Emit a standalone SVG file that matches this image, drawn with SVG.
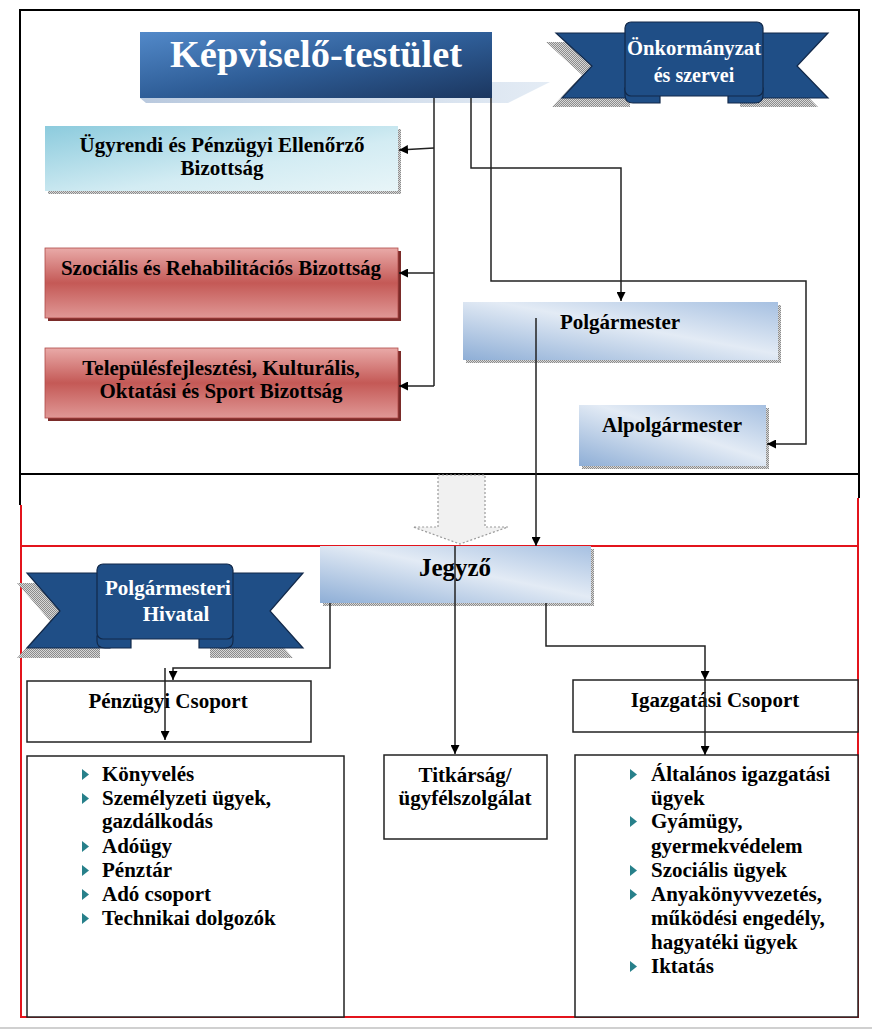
<svg xmlns="http://www.w3.org/2000/svg" width="872" height="1030" viewBox="0 0 872 1030">
<defs>
<linearGradient id="gKT" x1="0" y1="0" x2="1" y2="1">
<stop offset="0" stop-color="#5289c9"/><stop offset="0.5" stop-color="#2f5e98"/><stop offset="1" stop-color="#1b365f"/>
</linearGradient>
<linearGradient id="gKTs" x1="0" y1="0" x2="1" y2="0">
<stop offset="0" stop-color="#b9c9de"/><stop offset="1" stop-color="#e4ecf5"/>
</linearGradient>
<linearGradient id="gCyan" x1="0" y1="0" x2="1" y2="1">
<stop offset="0" stop-color="#8ccbdd"/><stop offset="0.6" stop-color="#d3ecf3"/><stop offset="1" stop-color="#e8f5f8"/>
</linearGradient>
<linearGradient id="gRed" x1="0" y1="0" x2="0" y2="1">
<stop offset="0" stop-color="#e9aaa8"/><stop offset="0.5" stop-color="#c45956"/><stop offset="1" stop-color="#e09896"/>
</linearGradient>
<linearGradient id="gBlue" x1="0" y1="1" x2="1" y2="0">
<stop offset="0" stop-color="#8eaed6"/><stop offset="0.55" stop-color="#e3ebf5"/><stop offset="1" stop-color="#a6c0e1"/>
</linearGradient>
<pattern id="dots" width="2" height="2" patternUnits="userSpaceOnUse">
<rect width="2" height="2" fill="#d8d8d8"/><rect width="1" height="1" fill="#8c8c8c"/><rect x="1" y="1" width="1" height="1" fill="#8c8c8c"/>
</pattern>
<marker id="ah" viewBox="0 0 10 10" refX="10" refY="5" markerWidth="9" markerHeight="9" markerUnits="userSpaceOnUse" orient="auto">
<path d="M0,0 L10,5 L0,10 Z" fill="#000"/>
</marker>
<polygon id="bul" points="0,0 7,5.5 0,11" fill="#27808a"/>
</defs>
<style>
.t{font-family:"Liberation Serif","Times New Roman",serif;font-weight:bold;font-size:21px;fill:#000}
.w{fill:#fff}
.c{text-anchor:middle}
.sh{fill:url(#dots)}
.box{fill:#fff;stroke:#222;stroke-width:1.5}
.cn{fill:none;stroke:#222;stroke-width:1.5}
.rib{fill:#1f4e86;stroke:#12294a;stroke-width:1.2}
</style>
<rect width="872" height="1030" fill="#fff"/>
<line x1="0" y1="1028" x2="872" y2="1028" stroke="#d0d0d0" stroke-width="2"/>

<!-- frames -->
<g id="frames" fill="none" stroke-width="2">
<path d="M20,505 V10 H859 V498" stroke="#000"/>
<line x1="20" y1="474" x2="859" y2="474" stroke="#000"/>
<path d="M21,505 V1017 H858 V498" stroke="#e3141c"/>
<line x1="21" y1="546" x2="858" y2="546" stroke="#e3141c"/>
</g>

<!-- Képviselő-testület -->
<g id="kepviselo">
<polygon points="492,82 550,82 508,103 146,103 140,98 492,98" fill="url(#gKTs)"/>
<rect x="140" y="32" width="352" height="66" fill="url(#gKT)"/>
<text x="316" y="67" class="t w c" style="font-size:37px" textLength="292" lengthAdjust="spacingAndGlyphs">Képviselő-testület</text>
</g>

<!-- Önkormányzat ribbon -->
<g id="onkormanyzat">
<g transform="translate(-10,9)" class="sh">
<polygon points="556,33 640,33 640,98 562,98 592,66"/>
<polygon points="828,33 750,33 750,98 828,98 797,66"/>
</g>
<polygon class="rib" points="556,33 640,33 640,98 562,98 592,66"/>
<polygon class="rib" points="828,33 750,33 750,98 828,98 797,66"/>
<path class="rib" d="M625,88 H660 V103 H633 Q625,103 625,95 Z"/>
<path class="rib" d="M763,88 H728 V103 H755 Q763,103 763,95 Z"/>
<rect class="rib" x="625" y="22" width="138" height="74" rx="6"/>
<text x="694" y="55" class="t w c" style="font-size:20px" textLength="134" lengthAdjust="spacingAndGlyphs">Önkormányzat</text>
<text x="694" y="82" class="t w c" style="font-size:20px">és szervei</text>
</g>

<!-- committees -->
<g id="ugyrendi">
<rect x="48" y="129" width="353" height="65" class="sh"/>
<rect x="45" y="126" width="353" height="65" fill="url(#gCyan)"/>
<text x="222" y="152" class="t c">Ügyrendi és Pénzügyi Ellenőrző</text>
<text x="222" y="175" class="t c">Bizottság</text>
</g>
<g id="szocialis">
<rect x="48" y="251" width="353" height="70" fill="#7a2b29"/>
<rect x="45" y="248" width="353" height="70" fill="url(#gRed)" stroke="#b04a48" stroke-width="0.8"/>
<text x="221" y="275" class="t c">Szociális és Rehabilitációs Bizottság</text>
</g>
<g id="telepulesfejlesztesi">
<rect x="48" y="351" width="353" height="70" fill="#7a2b29"/>
<rect x="45" y="348" width="353" height="70" fill="url(#gRed)" stroke="#b04a48" stroke-width="0.8"/>
<text x="221" y="375" class="t c">Településfejlesztési, Kulturális,</text>
<text x="221" y="398" class="t c">Oktatási és Sport Bizottság</text>
</g>

<!-- Polgármester -->
<g id="polgarmester">
<rect x="466" y="305" width="315" height="58" class="sh"/>
<rect x="463" y="302" width="315" height="58" fill="url(#gBlue)"/>
<text x="620" y="329" class="t c">Polgármester</text>
</g>
<g id="alpolgarmester">
<rect x="582" y="408" width="187" height="61" class="sh"/>
<rect x="579" y="405" width="187" height="61" fill="url(#gBlue)"/>
<text x="672" y="432" class="t c">Alpolgármester</text>
</g>

<!-- big gray arrow -->
<g id="nagy-nyil">
<polygon points="438,475 485,475 485,527 508,527 460,544 413,527 438,527" fill="#f1f1f1" stroke="#9a9a9a" stroke-width="1.2" stroke-dasharray="2,2"/>
</g>

<!-- Jegyző -->
<g id="jegyzo">
<rect x="323" y="549" width="271" height="57" class="sh"/>
<rect x="320" y="546" width="271" height="57" fill="url(#gBlue)"/>
<text x="455" y="576" class="t c" style="font-size:25px">Jegyző</text>
</g>

<!-- Polgármesteri Hivatal ribbon -->
<g id="polgarmesteri-hivatal">
<g transform="translate(-10,10)" class="sh">
<polygon points="27,573 110,573 110,648 27,648 60,611"/>
<polygon points="303,573 220,573 220,648 303,648 270,611"/>
</g>
<polygon class="rib" points="27,573 110,573 110,648 27,648 60,611"/>
<polygon class="rib" points="303,573 220,573 220,648 303,648 270,611"/>
<path class="rib" d="M97,636 H131 V648 H105 Q97,648 97,641 Z"/>
<path class="rib" d="M233,636 H199 V648 H225 Q233,648 233,641 Z"/>
<rect class="rib" x="97" y="564" width="136" height="75" rx="6"/>
<text x="168" y="595" class="t w c">Polgármesteri</text>
<text x="176" y="621" class="t w c">Hivatal</text>
</g>

<!-- groups -->
<g id="penzugyi-csoport">
<rect x="27" y="681" width="284" height="61" class="box"/>
<text x="168" y="708" class="t c">Pénzügyi Csoport</text>
</g>
<g id="igazgatasi-csoport">
<rect x="573" y="680" width="285" height="52" class="box"/>
<text x="715" y="707" class="t c">Igazgatási Csoport</text>
</g>
<g id="titkarsag">
<rect x="384" y="755" width="163" height="84" class="box"/>
<text x="465" y="782" class="t c">Titkárság/</text>
<text x="465" y="805" class="t c">ügyfélszolgálat</text>
</g>
<g id="penzugyi-feladatok">
<rect x="27" y="756" width="317" height="261" class="box"/>
<use href="#bul" x="82" y="769"/><text x="102" y="781" class="t">Könyvelés</text>
<use href="#bul" x="82" y="793"/><text x="102" y="805" class="t">Személyzeti ügyek,</text>
<text x="102" y="828" class="t">gazdálkodás</text>
<use href="#bul" x="82" y="841"/><text x="102" y="853" class="t">Adóügy</text>
<use href="#bul" x="82" y="865"/><text x="102" y="877" class="t">Pénztár</text>
<use href="#bul" x="82" y="889"/><text x="102" y="901" class="t">Adó csoport</text>
<use href="#bul" x="82" y="913"/><text x="102" y="925" class="t">Technikai dolgozók</text>
</g>
<g id="igazgatasi-feladatok">
<rect x="575" y="755" width="283" height="262" class="box"/>
<use href="#bul" x="630" y="769"/><text x="651" y="781" class="t">Általános igazgatási</text>
<text x="651" y="805" class="t">ügyek</text>
<use href="#bul" x="630" y="816"/><text x="651" y="828" class="t">Gyámügy,</text>
<text x="651" y="853" class="t">gyermekvédelem</text>
<use href="#bul" x="630" y="865"/><text x="651" y="877" class="t">Szociális ügyek</text>
<use href="#bul" x="630" y="889"/><text x="651" y="901" class="t">Anyakönyvvezetés,</text>
<text x="651" y="925" class="t">működési engedély,</text>
<text x="651" y="949" class="t">hagyatéki ügyek</text>
<use href="#bul" x="630" y="961"/><text x="651" y="973" class="t">Iktatás</text>
</g>

<!-- connectors -->
<g id="connectors" class="cn">
<path d="M434,98 V386"/>
<path d="M434,148 L399,150" marker-end="url(#ah)"/>
<path d="M434,273 H399" marker-end="url(#ah)"/>
<path d="M434,386 H399" marker-end="url(#ah)"/>
<path d="M471,98 V168 H621 V301" marker-end="url(#ah)"/>
<path d="M491,98 V281 H806 V444 H767" marker-end="url(#ah)"/>
<path d="M536,318 V546" marker-end="url(#ah)"/>
<path d="M455,546 V754" marker-end="url(#ah)"/>
<path d="M330,603 V668 H173 V680" marker-end="url(#ah)"/>
<path d="M165,668 V740" marker-end="url(#ah)"/>
<path d="M546,603 V646 H705 V680" marker-end="url(#ah)"/>
<path d="M705,680 V755" marker-end="url(#ah)"/>
</g>
</svg>
